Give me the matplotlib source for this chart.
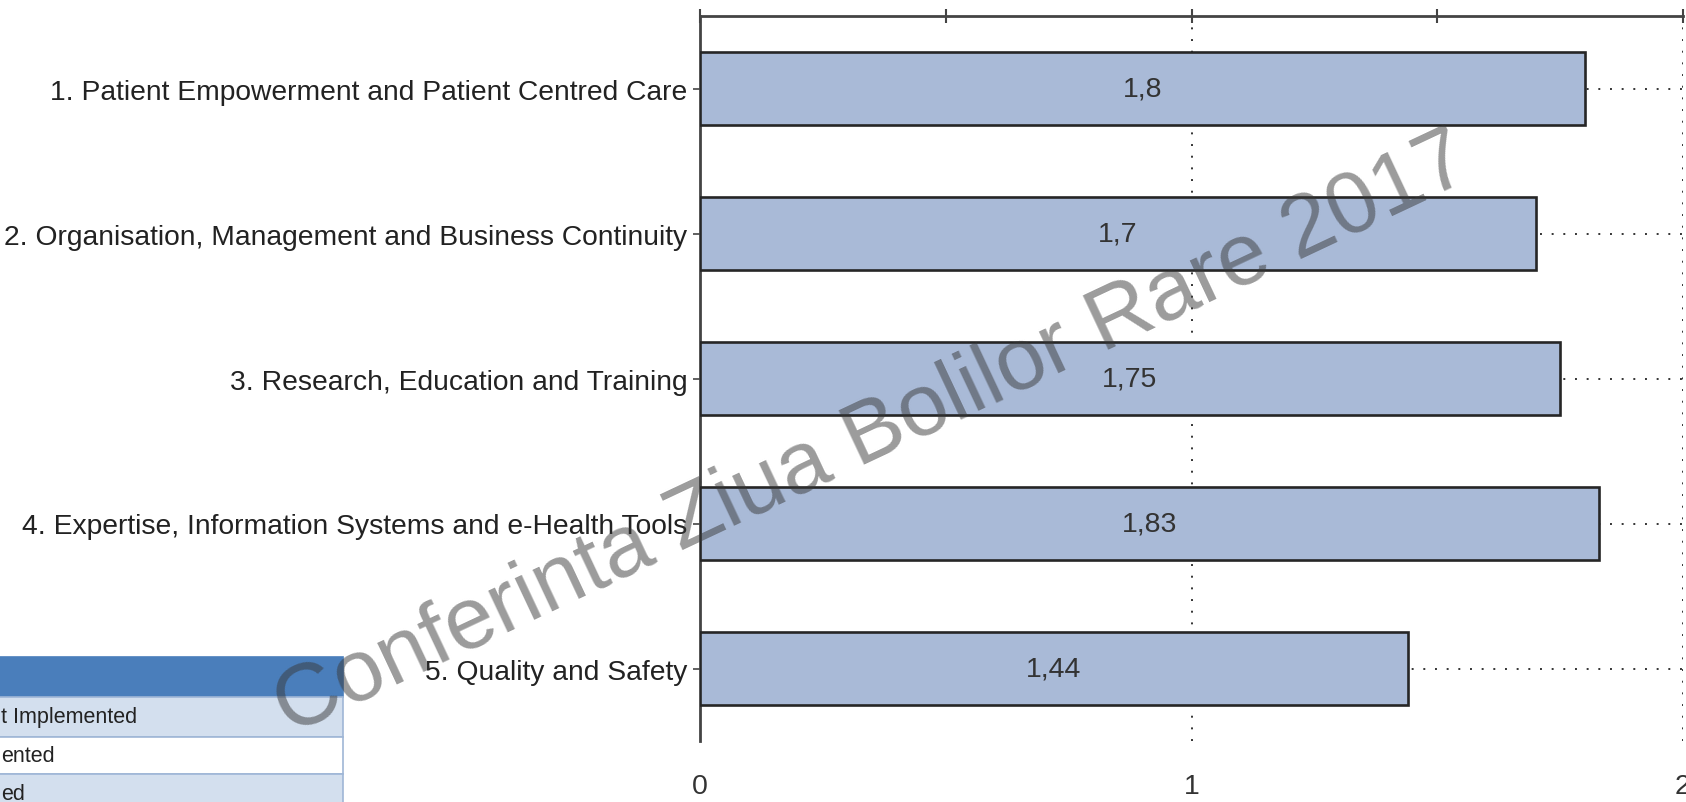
import matplotlib.pyplot as plt
import matplotlib.ticker as mticker
from matplotlib.patches import Rectangle

plt.rcParams["font.family"] = ["Liberation Sans", "DejaVu Sans"]

# ── Data ───────────────────────────────────────────────────────────────────
categories = [
    "1. Patient Empowerment and Patient Centred Care",
    "2. Organisation, Management and Business Continuity",
    "3. Research, Education and Training",
    "4. Expertise, Information Systems and e-Health Tools",
    "5. Quality and Safety",
]
scores = [1.8, 1.7, 1.75, 1.83, 1.44]
score_labels = ["1,8", "1,7", "1,75", "1,83", "1,44"]
x_ticks = [0, 1, 2]
x_minor = [0.5, 1.5]
legend_rows = ["t Implemented", "ented", "ed"]
watermark = "Conferinta Ziua Bolilor Rare 2017"

# ── Figure ─────────────────────────────────────────────────────────────────
W, H = 1686, 803
fig = plt.figure(figsize=(W / 100, H / 100), dpi=100)
ax = fig.add_axes([700 / W, 1 - 742 / H, (1683 - 700) / W, (742 - 17) / H])

pos = list(range(len(categories)))
ax.barh(pos, scores, height=0.5, color="#a9bad7", edgecolor="#262626",
        linewidth=1.9, zorder=3)
for p, v, lab in zip(pos, scores, score_labels):
    ax.text(v / 2, p, lab, ha="center", va="center", fontsize=20.5,
            color="#333333", zorder=4)

ax.set_xlim(0, 2)
ax.set_ylim(4.5, -0.5)
ax.set_xticks(x_ticks)
ax.xaxis.set_minor_locator(mticker.FixedLocator(x_minor))
ax.tick_params(axis="x", which="both", top=True, bottom=False,
               labelbottom=True, labeltop=False, direction="inout",
               length=10, width=1.5, color="#444444", pad=18,
               labelsize=20.5, labelcolor="#333333")
ax.set_yticks(pos, categories)
ax.tick_params(axis="y", length=5, width=1.2, direction="out", pad=4,
               labelsize=20.3, color="#444444", labelcolor="#222222")

ax.grid(True, which="major", linestyle=(0, (1, 5)), color="#333333",
        linewidth=1.4)
ax.set_axisbelow(True)
for side in ["right", "bottom"]:
    ax.spines[side].set_visible(False)
for side in ["top", "left"]:
    ax.spines[side].set_linewidth(2)
    ax.spines[side].set_color("#444444")

# ── Legend table (cut off at the left edge) ───────────────────────────────
def box(x0, y0, x1, y1, fc, ec="#9fb6d6"):
    fig.add_artist(Rectangle((x0 / W, 1 - y1 / H), (x1 - x0) / W, (y1 - y0) / H,
                             transform=fig.transFigure, facecolor=fc,
                             edgecolor=ec, linewidth=1.2))

box(-5, 658, 343, 698, "#4a7ebb", ec="#4a7ebb")
row_y = [698, 738, 775, 815]
row_fc = ["#d3dfee", "#ffffff", "#d3dfee"]
for i, (txt, fc) in enumerate(zip(legend_rows, row_fc)):
    box(-5, row_y[i], 343, row_y[i + 1], fc)
    fig.text(1 / W, 1 - (row_y[i] + row_y[i + 1]) / 2 / H, txt, ha="left",
             va="center", fontsize=15.5, color="#222222")

# ── Watermark ──────────────────────────────────────────────────────────────
fig.text(873 / W, 1 - 436 / H, watermark, rotation=25.2, rotation_mode="anchor",
         ha="center", va="center", fontsize=63.5, color="#383838", alpha=0.5,
         zorder=10)

fig.savefig("out.png", dpi=100)
